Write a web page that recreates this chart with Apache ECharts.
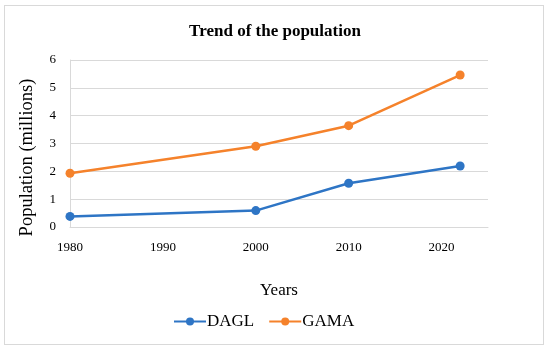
<!DOCTYPE html>
<html><head><meta charset="utf-8">
<script src="https://cdn.jsdelivr.net/npm/echarts@6/dist/echarts.min.js"></script>
<style>html,body{margin:0;padding:0;background:#fff}#c{width:550px;height:351px}
#frame{position:absolute;left:4px;top:5px;width:540px;height:340px;border:1px solid #d9d9d9;box-sizing:border-box;pointer-events:none}</style>
</head><body><div id="c"></div><div id="frame"></div>
<script>
const years = [1980, 2000, 2010, 2022];
const dagl = [0.38, 0.59, 1.57, 2.19];
const gama = [1.93, 2.90, 3.64, 5.46];
const seriesNames = ['DAGL', 'GAMA'];
const font = '"Liberation Serif", "DejaVu Serif", serif';
const chart = echarts.init(document.getElementById('c'));
chart.setOption({
  animation: false,
  title: {text: 'Trend of the population', left: 'center', top: 18,
    textStyle: {fontFamily: font, fontSize: 17, fontWeight: 'bold', color: '#000'}},
  legend: {bottom: 16, left: 168, itemWidth: 32, itemHeight: 10, itemGap: 14,
    textStyle: {fontFamily: font, fontSize: 17, color: '#000', padding: [0, 0, 0, -4]},
    data: seriesNames},
  grid: {left: 70, right: 62, top: 60, bottom: 124},
  xAxis: {type: 'value', min: 1980, max: 2025, interval: 10, name: 'Years', nameLocation: 'middle', nameGap: 55,
    nameTextStyle: {fontFamily: font, fontSize: 17, color: '#000'},
    axisLine: {show: true, lineStyle: {color: '#d9d9d9'}}, axisTick: {show: false}, splitLine: {show: false},
    axisLabel: {fontFamily: font, fontSize: 13, color: '#000', margin: 14, showMaxLabel: false,
      formatter: v => (v % 10 === 0 ? String(v) : '')}},
  yAxis: {type: 'value', min: 0, max: 6, interval: 1, name: 'Population (millions)', nameLocation: 'middle', nameGap: 33,
    nameTextStyle: {fontFamily: font, fontSize: 18.5, color: '#000', padding: [0, 28, 0, 0]},
    axisLine: {show: true, lineStyle: {color: '#d9d9d9'}}, axisTick: {show: false},
    splitLine: {lineStyle: {color: '#d9d9d9'}},
    axisLabel: {fontFamily: font, fontSize: 13, color: '#000', margin: 14}},
  series: [
    {name: seriesNames[0], type: 'line', data: years.map((y, i) => [y, dagl[i]]), symbol: 'circle', symbolSize: 9,
      itemStyle: {color: '#2e75c5'}, lineStyle: {width: 2.5, color: '#2e75c5'}},
    {name: seriesNames[1], type: 'line', data: years.map((y, i) => [y, gama[i]]), symbol: 'circle', symbolSize: 9,
      itemStyle: {color: '#f5822b'}, lineStyle: {width: 2.5, color: '#f5822b'}}
  ]
});
</script></body></html>
